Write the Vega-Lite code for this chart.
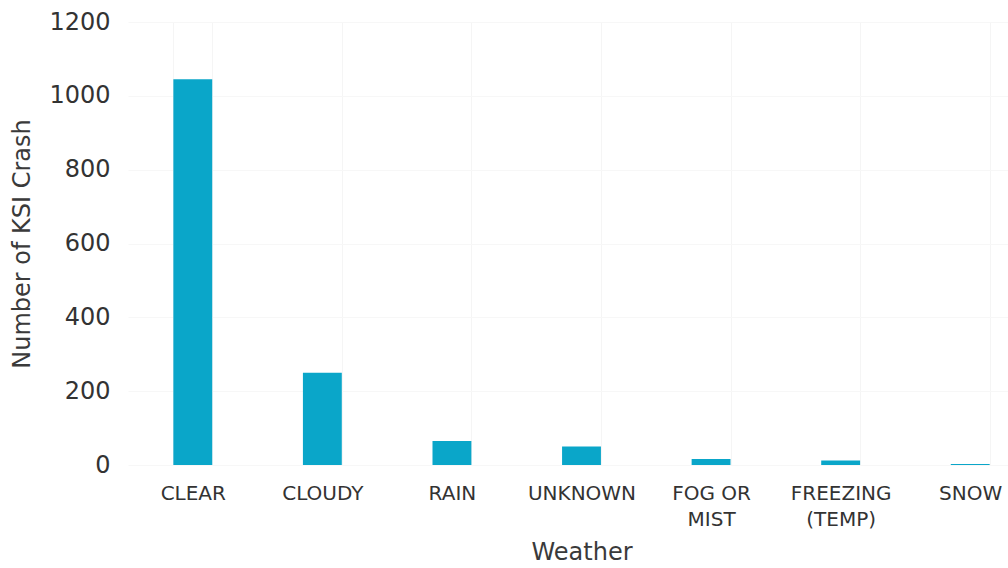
{
  "$schema": "https://vega.github.io/schema/vega-lite/v6.json",
  "autosize": {"type": "none"},
  "width": 880,
  "height": 443,
  "padding": {"left": 128, "top": 22, "right": 0, "bottom": 103},
  "background": "white",
  "config": {"view": {"stroke": null}, "font": "DejaVu Sans"},
  "data": {"values": [
    {"weather": "CLEAR", "crashes": 1045},
    {"weather": "CLOUDY", "crashes": 250},
    {"weather": "RAIN", "crashes": 65},
    {"weather": "UNKNOWN", "crashes": 50},
    {"weather": "FOG OR MIST", "crashes": 16},
    {"weather": "FREEZING (TEMP)", "crashes": 12},
    {"weather": "SNOW", "crashes": 3}
  ]},
  "mark": {"type": "bar", "color": "#0aa6c9"},
  "encoding": {
    "x": {
      "field": "weather", "type": "nominal", "sort": null,
      "scale": {"range": [0, 907], "paddingInner": 0.7, "paddingOuter": 0.35},
      "axis": {
        "title": "Weather", "titleFontSize": 24, "titleFontWeight": "normal", "titleColor": "#3a3a3a", "titlePadding": 11,
        "labelAngle": 0, "labelFontSize": 20, "labelColor": "#333333", "labelPadding": 18, "labelLineHeight": 26,
        "labelExpr": "datum.value == 'FOG OR MIST' ? ['FOG OR', 'MIST'] : datum.value == 'FREEZING (TEMP)' ? ['FREEZING', '(TEMP)'] : datum.label",
        "ticks": false, "domain": false, "grid": true, "gridColor": "#f5f5f5", "tickBand": "extent", "labelOverlap": false
      }
    },
    "y": {
      "field": "crashes", "type": "quantitative",
      "scale": {"domain": [0, 1200], "nice": false},
      "axis": {
        "title": "Number of KSI Crash", "titleFontSize": 24, "titleFontWeight": "normal", "titleColor": "#3a3a3a", "titlePadding": 14,
        "values": [0, 200, 400, 600, 800, 1000, 1200], "format": "d",
        "labelFontSize": 24, "labelColor": "#333333", "labelPadding": 18,
        "ticks": false, "domain": false, "grid": true, "gridColor": "#f7f7f7"
      }
    }
  }
}
